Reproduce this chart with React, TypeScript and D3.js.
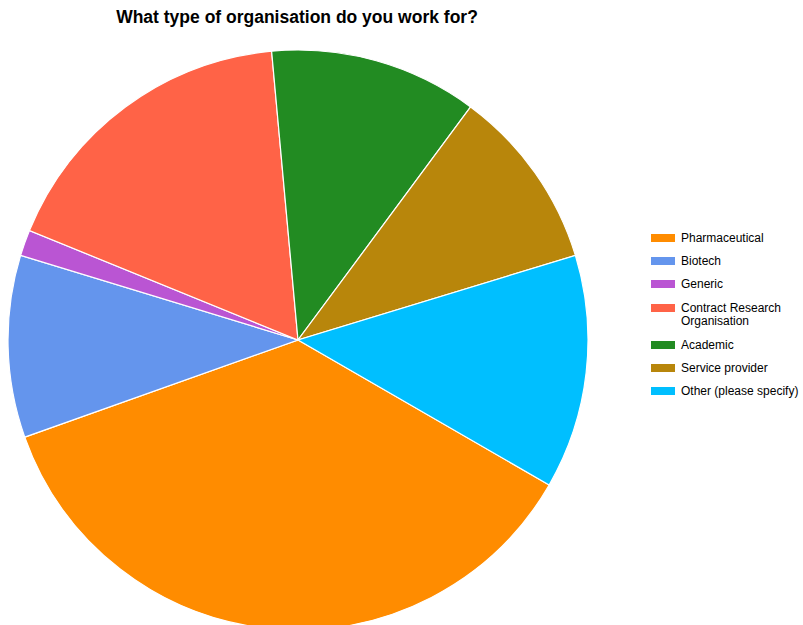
import React from 'react';
import * as d3 from 'd3';

const categories = [
  'Pharmaceutical',
  'Biotech',
  'Generic',
  'Contract Research Organisation',
  'Academic',
  'Service provider',
  'Other (please specify)',
];
const counts = [25, 7, 1, 12, 8, 7, 9];
const colors = ['#FF8C00', '#6495ED', '#BA55D3', '#FF6347', '#228B22', '#B8860B', '#00BFFF'];
const legendLines = [
  ['Pharmaceutical'],
  ['Biotech'],
  ['Generic'],
  ['Contract Research', 'Organisation'],
  ['Academic'],
  ['Service provider'],
  ['Other (please specify)'],
];

const W = 803;
const H = 625;

const App: React.FC = () => {
  const cx = 298;
  const cy = 340;
  const r = 290;

  const data = categories.map((c, i) => ({ name: c, value: counts[i], color: colors[i] }));

  const pie = d3.pie<{ name: string; value: number; color: string }>()
    .value(d => d.value)
    .sort(null)
    .startAngle((2 * Math.PI) / 3)
    .endAngle((2 * Math.PI) / 3 + 2 * Math.PI);

  const arc = d3.arc<d3.PieArcDatum<{ name: string; value: number; color: string }>>()
    .innerRadius(0)
    .outerRadius(r);

  const arcs = pie(data);

  // legend row positions
  const rowY = [238, 261, 284, 308, 345, 368, 391];

  return (
    <svg
      width={W}
      height={H}
      style={{ position: 'absolute', left: 0, top: 0, display: 'block' }}
      fontFamily="'Liberation Sans', Arial, sans-serif"
    >
      <rect width={W} height={H} fill="#fff" />
      <text x={297} y={23} textAnchor="middle" fontSize={17.5} fontWeight="bold" fill="#000">
        What type of organisation do you work for?
      </text>
      <g transform={`translate(${cx},${cy})`}>
        {arcs.map((a, i) => (
          <path key={i} d={arc(a) || ''} fill={a.data.color} stroke="#fff" strokeWidth={1.2} />
        ))}
      </g>
      <g>
        {legendLines.map((lines, i) => (
          <g key={i}>
            <rect x={651} y={rowY[i] - 4} width={24} height={8} fill={colors[i]} />
            {lines.map((ln, j) => (
              <text key={j} x={681} y={rowY[i] + 4 + j * 13} fontSize={12} fill="#000">
                {ln}
              </text>
            ))}
          </g>
        ))}
      </g>
    </svg>
  );
};

export default App;
